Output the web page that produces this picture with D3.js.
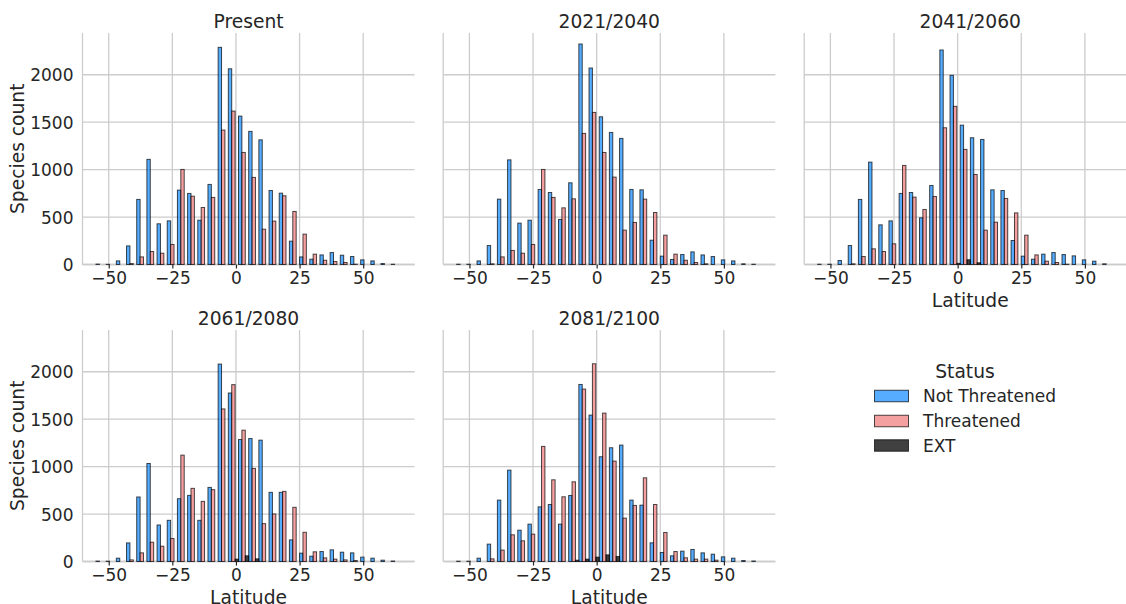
<!DOCTYPE html>
<html>
<head>
<meta charset="utf-8">
<script src="https://cdn.jsdelivr.net/npm/d3@7"></script>
<style>
  html, body { margin: 0; padding: 0; background: #ffffff; }
  svg { display: block; }
  text { font-family: "DejaVu Sans", sans-serif; fill: #262626; }
</style>
</head>
<body>
<div id="chart"></div>
<script>
// ---- Data ----
const binStarts = [-55, -51, -47, -43, -39, -35, -31, -27, -23, -19, -15, -11, -7, -3, 1, 5, 9, 13, 17, 21, 25, 29, 33, 37, 41, 45, 49, 53, 57, 61];
const binWidth = 4;
const statuses = ["Not Threatened", "Threatened", "EXT"];
const periods = ["Present", "2021/2040", "2041/2060", "2061/2080", "2081/2100"];

const presentNT = [4, 2, 38, 196, 686, 1108, 429, 460, 784, 749, 467, 844, 2289, 2063, 1564, 1403, 1314, 780, 752, 246, 80, 56, 101, 126, 98, 84, 49, 38, 10, 3];
const presentT  = [0, 0, 0, 10, 80, 137, 119, 211, 1002, 720, 601, 707, 1417, 1617, 1181, 918, 372, 457, 724, 559, 320, 109, 45, 31, 21, 3, 0, 0, 0, 0];
const presentEXT = [0, 0, 0, 0, 0, 0, 0, 0, 0, 0, 0, 0, 0, 0, 0, 0, 0, 0, 0, 0, 0, 0, 0, 0, 0, 0, 0, 0, 0, 0];

const p2040NT = [3, 3, 38, 200, 689, 1103, 436, 467, 791, 759, 475, 861, 2324, 2071, 1557, 1392, 1329, 791, 787, 256, 88, 53, 105, 133, 101, 84, 49, 38, 7, 3];
const p2040T  = [0, 0, 0, 7, 80, 148, 119, 211, 1002, 707, 597, 692, 1382, 1603, 1181, 921, 362, 443, 689, 548, 309, 109, 45, 21, 7, 0, 0, 0, 0, 0];
const p2040EXT = [0, 0, 0, 0, 0, 0, 0, 0, 0, 0, 0, 0, 0, 0, 0, 0, 0, 0, 0, 0, 0, 0, 0, 0, 0, 0, 0, 0, 0, 0];

const p2060NT = [3, 3, 42, 200, 686, 1079, 418, 460, 749, 759, 492, 833, 2261, 1994, 1469, 1336, 1318, 787, 780, 253, 88, 56, 109, 126, 105, 91, 49, 35, 7, 0];
const p2060T  = [0, 0, 0, 7, 84, 165, 137, 218, 1044, 710, 580, 717, 1441, 1667, 1213, 949, 362, 446, 696, 544, 309, 101, 35, 21, 3, 0, 0, 0, 0, 0];
const p2060EXT = [0, 0, 0, 0, 0, 0, 0, 0, 0, 0, 0, 0, 0, 12, 50, 18, 0, 0, 0, 0, 0, 0, 0, 0, 0, 0, 0, 0, 0, 0];

const p2080NT = [4, 3, 35, 196, 680, 1033, 385, 434, 662, 697, 434, 781, 2081, 1776, 1286, 1296, 1279, 729, 729, 228, 88, 56, 105, 123, 98, 91, 46, 35, 14, 5];
const p2080T  = [0, 0, 0, 17, 91, 203, 161, 242, 1121, 771, 634, 757, 1608, 1864, 1384, 981, 399, 501, 739, 571, 308, 102, 38, 25, 17, 10, 0, 0, 0, 0];
const p2080EXT = [0, 0, 0, 0, 0, 0, 0, 0, 0, 0, 0, 0, 0, 25, 60, 28, 0, 0, 0, 0, 0, 0, 0, 0, 0, 0, 0, 0, 0, 0];

const p2100NT = [3, 3, 35, 183, 647, 963, 330, 394, 576, 601, 394, 696, 1866, 1543, 1104, 1199, 1227, 647, 594, 197, 95, 60, 109, 127, 91, 77, 49, 35, 10, 5];
const p2100T  = [0, 0, 0, 28, 120, 281, 218, 288, 1213, 861, 682, 840, 1817, 2084, 1564, 1058, 457, 591, 882, 601, 306, 105, 39, 25, 25, 14, 0, 0, 0, 0];
const p2100EXT = [0, 0, 0, 0, 0, 0, 0, 0, 0, 0, 0, 14, 25, 46, 70, 53, 0, 0, 0, 0, 0, 0, 0, 0, 0, 0, 0, 0, 0, 0];

const xTicks = [-50, -25, 0, 25, 50];
const yTicks = [0, 500, 1000, 1500, 2000];

const panelSeries = [
  [presentNT, presentT, presentEXT],
  [p2040NT, p2040T, p2040EXT],
  [p2060NT, p2060T, p2060EXT],
  [p2080NT, p2080T, p2080EXT],
  [p2100NT, p2100T, p2100EXT]
];

// ---- Styles / layout ----
const W = 1126, H = 604;
const colors = ["#1e90ff", "#f08080", "#000000"];
const colLeft = [82.5, 443.2, 804.2];
const rowTop = [33, 330];
const pw = 332.1, ph = 231.5;
const xDomain = [-60.3, 70.2];
const yDomain = [0, 2440];
const gridColor = "#cccccc";

const svg = d3.select("#chart").append("svg")
  .attr("width", W).attr("height", H)
  .attr("viewBox", `0 0 ${W} ${H}`);

periods.forEach((title, pi) => {
  const col = pi % 3, row = Math.floor(pi / 3);
  const left = colLeft[col], top = rowTop[row];
  const x = d3.scaleLinear().domain(xDomain).range([left, left + pw]);
  const y = d3.scaleLinear().domain(yDomain).range([top + ph, top]);
  const g = svg.append("g");

  // grid
  g.selectAll("line.vg").data(xTicks).join("line")
    .attr("x1", d => x(d)).attr("x2", d => x(d))
    .attr("y1", top).attr("y2", top + ph)
    .attr("stroke", gridColor).attr("stroke-width", 1.3);
  g.selectAll("line.hg").data(yTicks).join("line")
    .attr("x1", left).attr("x2", left + pw)
    .attr("y1", d => y(d)).attr("y2", d => y(d))
    .attr("stroke", gridColor).attr("stroke-width", 1.3);

  // spines (left, bottom)
  g.append("line").attr("x1", left).attr("x2", left).attr("y1", top).attr("y2", top + ph)
    .attr("stroke", gridColor).attr("stroke-width", 1.3);
  g.append("line").attr("x1", left).attr("x2", left + pw).attr("y1", top + ph).attr("y2", top + ph)
    .attr("stroke", gridColor).attr("stroke-width", 1.3);

  // bars
  const sub = binWidth / statuses.length;
  panelSeries[pi].forEach((vals, si) => {
    const bars = vals.map((v, bi) => ({ x0: binStarts[bi] + si * sub, v }))
      .filter(d => d.v > 0);
    g.selectAll(null).data(bars).join("rect")
      .attr("x", d => x(d.x0))
      .attr("width", d => x(d.x0 + sub) - x(d.x0))
      .attr("y", d => y(d.v))
      .attr("height", d => y(0) - y(d.v))
      .attr("fill", colors[si]).attr("fill-opacity", 0.75)
      .attr("stroke", "#000").attr("stroke-opacity", 0.7).attr("stroke-width", 1);
  });

  // x axis ticks & labels
  const xa = d3.axisBottom(x).tickValues(xTicks).tickSize(4).tickPadding(3).tickFormat(d3.format("d"));
  const xg = g.append("g").attr("transform", `translate(0,${top + ph})`).call(xa);
  xg.select(".domain").remove();
  xg.selectAll(".tick line").attr("stroke", "#262626").attr("stroke-width", 1.2);
  xg.selectAll(".tick text").attr("font-size", 17).attr("fill", "#262626")
    .attr("font-family", "DejaVu Sans").attr("dy", null).attr("y", 19.5);

  // y axis labels on left column
  if (col === 0) {
    const ya = d3.axisLeft(y).tickValues(yTicks).tickSize(0).tickPadding(9).tickFormat(d3.format("d"));
    const yg = g.append("g").attr("transform", `translate(${left},0)`).call(ya);
    yg.select(".domain").remove();
    yg.selectAll(".tick text").attr("font-size", 17).attr("fill", "#262626")
      .attr("font-family", "DejaVu Sans").attr("dy", "0.36em");
    g.append("text")
      .attr("transform", `translate(24,${top + ph / 2}) rotate(-90)`)
      .attr("text-anchor", "middle").attr("font-size", 18.7)
      .text("Species count");
  }

  // x label
  if (row === 1 || col === 2) {
    g.append("text").attr("x", left + pw / 2).attr("y", top + ph + 42.4)
      .attr("text-anchor", "middle").attr("font-size", 18.7).text("Latitude");
  }

  // title
  g.append("text").attr("x", left + pw / 2).attr("y", top - 5)
    .attr("text-anchor", "middle").attr("font-size", 18.7).text(title);
});

// legend
const lg = svg.append("g");
lg.append("text").attr("x", 965).attr("y", 377.5).attr("text-anchor", "middle")
  .attr("font-size", 18.7).text("Status");
const legRows = [396, 421, 445.5];
statuses.forEach((s, i) => {
  lg.append("rect").attr("x", 874.5).attr("y", legRows[i] - 5.75).attr("width", 34).attr("height", 11.5)
    .attr("fill", colors[i]).attr("fill-opacity", 0.75)
    .attr("stroke", "#000").attr("stroke-opacity", 0.7).attr("stroke-width", 1);
  lg.append("text").attr("x", 923).attr("y", legRows[i]).attr("dy", "0.36em")
    .attr("font-size", 17).text(s);
});
</script>
</body>
</html>
